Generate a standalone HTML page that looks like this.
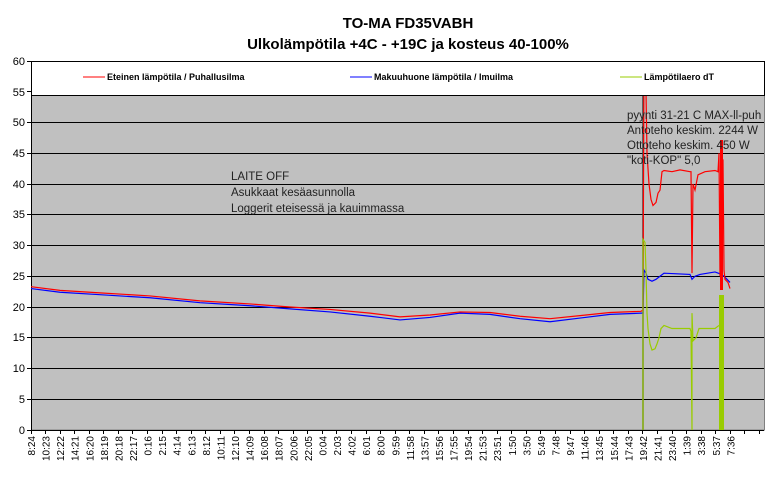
<!DOCTYPE html>
<html><head><meta charset="utf-8"><style>
html,body{margin:0;padding:0;background:#fff;}
svg{display:block;font-family:"Liberation Sans",Arial,sans-serif;}
</style></head><body>
<svg width="778" height="478" viewBox="0 0 778 478">
<rect width="778" height="478" fill="#fff"/>
<text x="408" y="28" text-anchor="middle" font-size="15" font-weight="bold">TO-MA FD35VABH</text>
<text x="408" y="49" text-anchor="middle" font-size="15" font-weight="bold">Ulkolämpötila +4C - +19C ja kosteus 40-100%</text>
<rect x="31" y="61" width="733" height="369" fill="#c0c0c0"/>
<g stroke="#000" stroke-width="1">
<line x1="31" y1="399.5" x2="764" y2="399.5"/>
<line x1="31" y1="368.5" x2="764" y2="368.5"/>
<line x1="31" y1="337.5" x2="764" y2="337.5"/>
<line x1="31" y1="307.5" x2="764" y2="307.5"/>
<line x1="31" y1="276.5" x2="764" y2="276.5"/>
<line x1="31" y1="245.5" x2="764" y2="245.5"/>
<line x1="31" y1="214.5" x2="764" y2="214.5"/>
<line x1="31" y1="184.5" x2="764" y2="184.5"/>
<line x1="31" y1="153.5" x2="764" y2="153.5"/>
<line x1="31" y1="122.5" x2="764" y2="122.5"/>
</g>
<rect x="31.5" y="61.5" width="733" height="368.5" fill="none" stroke="#808080"/>
<line x1="31.5" y1="61" x2="31.5" y2="430" stroke="#000"/>
<line x1="31" y1="430.5" x2="764" y2="430.5" stroke="#000"/>
<g font-size="11" text-anchor="end">
<text x="25" y="434">0</text><text x="25" y="403">5</text><text x="25" y="372">10</text><text x="25" y="341">15</text><text x="25" y="311">20</text><text x="25" y="280">25</text><text x="25" y="249">30</text><text x="25" y="218">35</text><text x="25" y="188">40</text><text x="25" y="157">45</text><text x="25" y="126">50</text><text x="25" y="96">55</text><text x="25" y="65">60</text>
</g>
<g stroke="#000">
<line x1="27" x2="31" y1="430.5" y2="430.5"/><line x1="27" x2="31" y1="399.5" y2="399.5"/><line x1="27" x2="31" y1="368.5" y2="368.5"/><line x1="27" x2="31" y1="337.5" y2="337.5"/><line x1="27" x2="31" y1="307.5" y2="307.5"/><line x1="27" x2="31" y1="276.5" y2="276.5"/><line x1="27" x2="31" y1="245.5" y2="245.5"/><line x1="27" x2="31" y1="214.5" y2="214.5"/><line x1="27" x2="31" y1="184.5" y2="184.5"/><line x1="27" x2="31" y1="153.5" y2="153.5"/><line x1="27" x2="31" y1="122.5" y2="122.5"/><line x1="27" x2="31" y1="91.5" y2="91.5"/><line x1="27" x2="31" y1="61.5" y2="61.5"/>
</g>
<path stroke="#000" d="M31.5 430v4M45.5 430v4M60.5 430v4M74.5 430v4M89.5 430v4M103.5 430v4M118.5 430v4M132.5 430v4M147.5 430v4M162.5 430v4M176.5 430v4M191.5 430v4M205.5 430v4M220.5 430v4M234.5 430v4M249.5 430v4M264.5 430v4M278.5 430v4M293.5 430v4M307.5 430v4M322.5 430v4M336.5 430v4M351.5 430v4M366.5 430v4M380.5 430v4M395.5 430v4M409.5 430v4M424.5 430v4M438.5 430v4M453.5 430v4M468.5 430v4M482.5 430v4M497.5 430v4M511.5 430v4M526.5 430v4M540.5 430v4M555.5 430v4M570.5 430v4M584.5 430v4M599.5 430v4M613.5 430v4M628.5 430v4M642.5 430v4M657.5 430v4M672.5 430v4M686.5 430v4M701.5 430v4M715.5 430v4M730.5 430v4M744.5 430v4M759.5 430v4"/>
<g font-size="10" text-anchor="end">
<text transform="translate(35,436) rotate(-90)">8:24</text>
<text transform="translate(49.6,436) rotate(-90)">10:23</text>
<text transform="translate(64.1,436) rotate(-90)">12:22</text>
<text transform="translate(78.7,436) rotate(-90)">14:21</text>
<text transform="translate(93.3,436) rotate(-90)">16:20</text>
<text transform="translate(107.9,436) rotate(-90)">18:19</text>
<text transform="translate(122.4,436) rotate(-90)">20:18</text>
<text transform="translate(137,436) rotate(-90)">22:17</text>
<text transform="translate(151.6,436) rotate(-90)">0:16</text>
<text transform="translate(166.1,436) rotate(-90)">2:15</text>
<text transform="translate(180.7,436) rotate(-90)">4:14</text>
<text transform="translate(195.3,436) rotate(-90)">6:13</text>
<text transform="translate(209.8,436) rotate(-90)">8:12</text>
<text transform="translate(224.4,436) rotate(-90)">10:11</text>
<text transform="translate(239,436) rotate(-90)">12:10</text>
<text transform="translate(253.6,436) rotate(-90)">14:09</text>
<text transform="translate(268.1,436) rotate(-90)">16:08</text>
<text transform="translate(282.7,436) rotate(-90)">18:07</text>
<text transform="translate(297.3,436) rotate(-90)">20:06</text>
<text transform="translate(311.8,436) rotate(-90)">22:05</text>
<text transform="translate(326.4,436) rotate(-90)">0:04</text>
<text transform="translate(341,436) rotate(-90)">2:03</text>
<text transform="translate(355.5,436) rotate(-90)">4:02</text>
<text transform="translate(370.1,436) rotate(-90)">6:01</text>
<text transform="translate(384.7,436) rotate(-90)">8:00</text>
<text transform="translate(399.3,436) rotate(-90)">9:59</text>
<text transform="translate(413.8,436) rotate(-90)">11:58</text>
<text transform="translate(428.4,436) rotate(-90)">13:57</text>
<text transform="translate(443,436) rotate(-90)">15:56</text>
<text transform="translate(457.5,436) rotate(-90)">17:55</text>
<text transform="translate(472.1,436) rotate(-90)">19:54</text>
<text transform="translate(486.7,436) rotate(-90)">21:53</text>
<text transform="translate(501.2,436) rotate(-90)">23:51</text>
<text transform="translate(515.8,436) rotate(-90)">1:50</text>
<text transform="translate(530.4,436) rotate(-90)">3:50</text>
<text transform="translate(545,436) rotate(-90)">5:49</text>
<text transform="translate(559.5,436) rotate(-90)">7:48</text>
<text transform="translate(574.1,436) rotate(-90)">9:47</text>
<text transform="translate(588.7,436) rotate(-90)">11:46</text>
<text transform="translate(603.2,436) rotate(-90)">13:45</text>
<text transform="translate(617.8,436) rotate(-90)">15:44</text>
<text transform="translate(632.4,436) rotate(-90)">17:43</text>
<text transform="translate(646.9,436) rotate(-90)">19:42</text>
<text transform="translate(661.5,436) rotate(-90)">21:41</text>
<text transform="translate(676.1,436) rotate(-90)">23:40</text>
<text transform="translate(690.7,436) rotate(-90)">1:39</text>
<text transform="translate(705.2,436) rotate(-90)">3:38</text>
<text transform="translate(719.8,436) rotate(-90)">5:37</text>
<text transform="translate(734.4,436) rotate(-90)">7:36</text>
</g>
<line x1="643" y1="96" x2="643" y2="430" stroke="#404040" stroke-width="1.5"/>
<g transform="translate(0,430) scale(1,-6.15)" fill="none">
<polyline vector-effect="non-scaling-stroke" stroke="#00f" stroke-width="1.2" points="31,23 60,22.4 100,22 150,21.5 200,20.7 250,20.2 290,19.7 330,19.2 370,18.5 400,17.9 430,18.3 460,19 490,18.8 520,18.1 550,17.6 580,18.2 610,18.8 641,19 643,19 644,26 646,25.5 648,24.5 652,24.2 656,24.5 660,25 664,25.5 690,25.3 692,24.5 695,25 700,25.3 715,25.7 720,25.4 724,25 727,24.5 730,24"/>
<polyline vector-effect="non-scaling-stroke" stroke="#f00" stroke-width="1.2" points="31,23.3 60,22.7 100,22.3 150,21.8 200,21 250,20.5 290,20 330,19.6 370,19 400,18.4 430,18.7 460,19.2 490,19.1 520,18.5 550,18.1 580,18.6 610,19.1 641,19.3 643,19.5 644,60 646,55 647,45 649,40 651,37.5 653,36.5 656,37 658,38.5 660,39 662,42 664,42.2 672,42 680,42.3 690,42 691,42 692,25.5 693,40 695,39 698,41.5 705,42 715,42.2 718,42 719,45 720,25 721,45 722,25 723,44 724,26 725,24.5 728,24 730,23"/>
<polyline vector-effect="non-scaling-stroke" stroke="#99cc00" stroke-width="1.2" points="643,0 643,31 645,30.5 646,26 647,19 648,16.5 650,14 652,13 655,13.2 657,14 659,15 661,16.5 664,17 672,16.5 680,16.5 690,16.5 691,16 692,0 692,19 693,14.5 696,15 699,16.5 705,16.5 715,16.5 719,17"/>
</g>
<rect x="719" y="295" width="5" height="135" fill="#99cc00"/>
<rect x="720" y="140" width="3" height="150" fill="#f00"/>
<rect x="31.5" y="61.5" width="733" height="34" fill="#fff" stroke="#000"/>
<g font-size="9" font-weight="bold">
<line x1="83" y1="77" x2="105" y2="77" stroke="#f00"/><text x="107" y="80">Eteinen lämpötila / Puhallusilma</text>
<line x1="350" y1="77" x2="372" y2="77" stroke="#00f"/><text x="374" y="80">Makuuhuone lämpötila / Imuilma</text>
<line x1="620" y1="77" x2="642" y2="77" stroke="#9c0"/><text x="644" y="80">Lämpötilaero dT</text>
</g>
<g font-size="11.5" fill="#222">
<text x="231" y="180">LAITE OFF</text>
<text x="231" y="196">Asukkaat kesäasunnolla</text>
<text x="231" y="212">Loggerit eteisessä ja kauimmassa</text>
<text x="627" y="119">pyynti 31-21 C MAX-ll-puh</text>
<text x="627" y="134">Antoteho keskim. 2244 W</text>
<text x="627" y="149">Ottoteho keskim. 450 W</text>
<text x="627" y="164">"koti-KOP" 5,0</text>
</g>
</svg>
</body></html>
